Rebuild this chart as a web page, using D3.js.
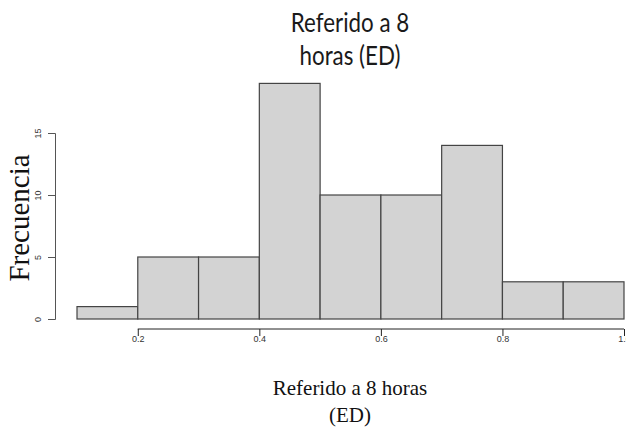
<!DOCTYPE html>
<html><head><meta charset="utf-8">
<script src="https://cdn.jsdelivr.net/npm/d3@7"></script>
<style>body{margin:0;background:#fff}</style>
</head><body>
<script>
const binEdges = [0.1,0.2,0.3,0.4,0.5,0.6,0.7,0.8,0.9,1.0];
const counts = [1,5,5,19,10,10,14,3,3];
const xTicks = [0.2,0.4,0.6,0.8,1.0];
const xTickLabels = ["0.2","0.4","0.6","0.8","1.0"];
const yTicks = [0,5,10,15];
const titleLines = ["Referido a 8","horas (ED)"];
const xLabelLines = ["Referido a 8 horas","(ED)"];
const yLabel = "Frecuencia";

const W=626,H=429;
const svg=d3.select("body").append("svg").attr("width",W).attr("height",H);
const x=d3.scaleLinear().domain([0.1,1.0]).range([77,624]);
const y=d3.scaleLinear().domain([0,15]).range([319,133]);

const bins=counts.map((c,i)=>({x0:binEdges[i],x1:binEdges[i+1],c}));
svg.selectAll("rect.bar").data(bins).join("rect").attr("class","bar")
  .attr("x",d=>x(d.x0)).attr("width",d=>x(d.x1)-x(d.x0))
  .attr("y",d=>y(d.c)).attr("height",d=>y(0)-y(d.c))
  .attr("fill","#d3d3d3").attr("stroke","#444").attr("stroke-width",1.2);

// x axis
const xa=svg.append("g").attr("transform","translate(0,329)")
  .call(d3.axisBottom(x).tickValues(xTicks).tickFormat((d,i)=>xTickLabels[i]).tickSizeOuter(0).tickSize(7));
xa.select(".domain").attr("d",`M${x(xTicks[0])},0H${x(xTicks[xTicks.length-1])}`).attr("stroke","#222");
xa.selectAll(".tick line").attr("stroke","#222");
xa.selectAll("text").attr("font-family","Liberation Sans, Arial, sans-serif").attr("font-size",9).attr("fill","#333")
  .attr("y",7).attr("dy","0.71em");

// y axis
const ya=svg.append("g").attr("transform","translate(55,0)")
  .call(d3.axisLeft(y).tickValues(yTicks).tickSizeOuter(0).tickSize(7).tickFormat(d3.format("d")));
ya.select(".domain").attr("stroke","#555");
ya.selectAll(".tick line").attr("stroke","#555");
ya.selectAll(".tick text").attr("x",null).attr("dy",null)
  .attr("transform","translate(-14,0) rotate(-90)").attr("text-anchor","middle")
  .attr("font-family","Liberation Sans, Arial, sans-serif").attr("font-size",9).attr("fill","#333");

// title (condensed horizontally to mimic a narrow sans)
svg.append("g").attr("transform","translate(350,0) scale(0.86,1)")
  .append("text").attr("text-anchor","middle").attr("font-family","Lato, 'Open Sans', sans-serif")
  .attr("font-size",26).attr("fill","#1a1a1a")
  .selectAll("tspan").data(titleLines).join("tspan").attr("x",0).attr("y",(d,i)=>32+i*33).text(d=>d);

// x label
svg.append("text").attr("text-anchor","middle").attr("font-family","'Liberation Serif', 'Times New Roman', serif")
  .attr("font-size",21).attr("fill","#111")
  .selectAll("tspan").data(xLabelLines).join("tspan").attr("x",350).attr("y",(d,i)=>395+i*27).text(d=>d);

// y label
svg.append("text").attr("transform","translate(29,218) rotate(-90)").attr("text-anchor","middle")
  .attr("font-family","'Liberation Serif', 'Times New Roman', serif").attr("font-size",29).attr("fill","#111").text(yLabel);
</script>
</body></html>
